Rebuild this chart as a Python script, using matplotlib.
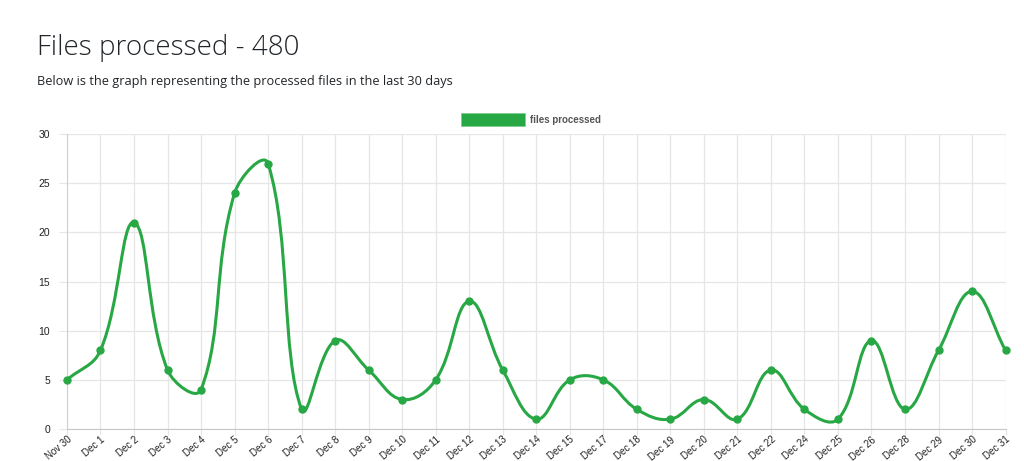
import numpy as np
import matplotlib
matplotlib.use('agg')
import matplotlib.pyplot as plt
from matplotlib.path import Path
from matplotlib.patches import PathPatch, Rectangle

labels = ['Nov 30', 'Dec 1', 'Dec 2', 'Dec 3', 'Dec 4', 'Dec 5', 'Dec 6', 'Dec 7',
          'Dec 8', 'Dec 9', 'Dec 10', 'Dec 11', 'Dec 12', 'Dec 13', 'Dec 14',
          'Dec 15', 'Dec 17', 'Dec 18', 'Dec 19', 'Dec 20', 'Dec 21', 'Dec 22',
          'Dec 24', 'Dec 25', 'Dec 26', 'Dec 28', 'Dec 29', 'Dec 30', 'Dec 31']
files = [5, 8, 21, 6, 4, 24, 27, 2, 9, 6, 3, 5, 13, 6, 1,
         5, 5, 2, 1, 3, 1, 6, 2, 1, 9, 2, 8, 14, 8]
total = 480
green = '#28a745'

fig = plt.figure(figsize=(10.24, 4.61), dpi=100)
ax = fig.add_axes([0.0654, 0.0694, 0.9166, 0.6397])
x = np.arange(len(files))
ax.set_xlim(0, len(files) - 1)
ax.set_ylim(0, 30)


def spline_path(xs, ys, tension=0.4):
    # chart.js style bezier, control points computed in pixel space
    pts = ax.transData.transform(np.column_stack([xs, ys]))
    n = len(pts)
    cps = []
    for i in range(n):
        prev = pts[max(i - 1, 0)]
        cur = pts[i]
        nxt = pts[min(i + 1, n - 1)]
        d01 = np.hypot(*(cur - prev))
        d12 = np.hypot(*(nxt - cur))
        s = d01 + d12
        s01 = d01 / s if s else 0
        s12 = d12 / s if s else 0
        cps.append((cur - tension * s01 * (nxt - prev), cur + tension * s12 * (nxt - prev)))
    verts = [pts[0]]
    codes = [Path.MOVETO]
    for i in range(n - 1):
        verts += [cps[i][1], cps[i + 1][0], pts[i + 1]]
        codes += [Path.CURVE4] * 3
    inv = ax.transData.inverted()
    return Path(inv.transform(np.array(verts)), codes)


ax.add_patch(PathPatch(spline_path(x, files), fill=False, edgecolor=green, lw=2.2,
                       zorder=3, clip_on=False, capstyle='round', joinstyle='round'))
ax.plot(x, files, 'o', color=green, ms=5, zorder=4, clip_on=False)

ax.set_xticks(x)
ax.set_xticklabels(labels, rotation=40, ha='right', rotation_mode='anchor',
                   fontsize=7, color='#222222', family='Liberation Sans')
ax.set_yticks(range(0, 31, 5))
ax.tick_params(axis='y', labelsize=7.5, colors='#222222', length=6, width=0.8, pad=6)
ax.tick_params(axis='x', length=4, width=0.8, pad=0, colors='#222222')
for t in ax.get_yticklabels():
    t.set_family('Liberation Sans')
ax.tick_params(axis='both', color='#e6e6e6')
ax.grid(True, color='#e6e6e6', lw=0.9)
ax.set_axisbelow(True)
for s in ['top', 'right']:
    ax.spines[s].set_visible(False)
ax.spines['left'].set_color('#d0d0d0')
ax.spines['bottom'].set_color('#c8c8c8')

# legend
fig.patches.append(Rectangle((461 / 1024, 1 - 126 / 461), 64 / 1024, 13 / 461,
                             transform=fig.transFigure, facecolor=green,
                             edgecolor='#7fcf90', lw=0.6))
fig.text(530 / 1024, 1 - 119.5 / 461, 'files processed', fontsize=7, weight='bold',
         color='#555555', va='center', family='Liberation Sans')

fig.text(37 / 1024, 1 - 48 / 461, 'Files processed - %d' % total, fontsize=20,
         color='#212529', va='center', family='Open Sans', weight='light')
fig.text(37 / 1024, 1 - 82 / 461,
         'Below is the graph representing the processed files in the last 30 days',
         fontsize=9.2, color='#212529', va='center', family='Open Sans')

fig.savefig('out.png', dpi=100)
